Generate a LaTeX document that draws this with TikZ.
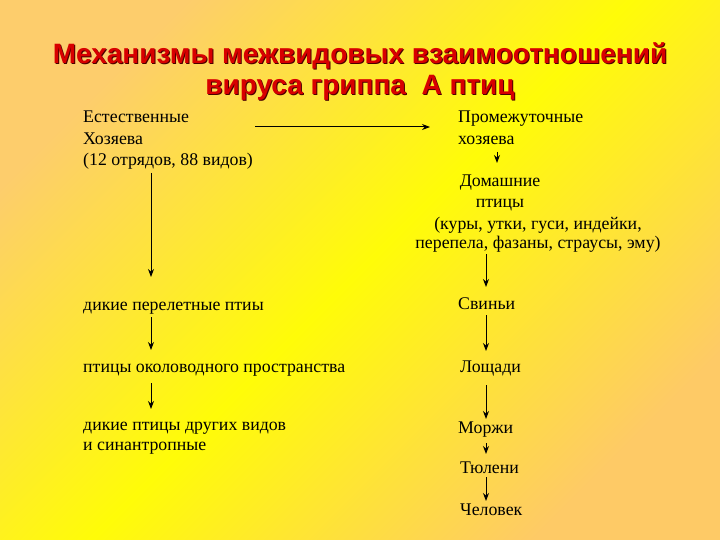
\documentclass[tikz,border=0pt]{standalone}
\usepackage{fontspec}
\setmainfont{Liberation Serif}
\newfontfamily\titlefont{Liberation Sans}
\usetikzlibrary{arrows.meta}
\definecolor{bgorange}{HTML}{FDCD6C}
\definecolor{bgorangeB}{HTML}{FECA66}
\definecolor{bgyellow}{HTML}{FFFC08}
\definecolor{titlered}{HTML}{D80000}
\tikzset{
  txt/.style={inner sep=0pt, font=\fontsize{17.8}{21.3}\selectfont, text=black},
  arr/.style={-{Stealth[length=8pt,width=6pt]}, line width=1pt, black},
  ttl/.style={inner sep=0pt, font=\titlefont\bfseries\fontsize{28}{31}\selectfont, align=center, anchor=north}
}
\begin{document}
\begin{tikzpicture}[x=1pt,y=-1pt]
\useasboundingbox (0,0) rectangle (720,540);
\shade[top color=bgorange, bottom color=bgorangeB, middle color=bgyellow, shading angle=45] (0,0) rectangle (720,540);
% title
\node[ttl, text=black!65!titlered] at (361,43) {Механизмы межвидовых взаимоотношений\\вируса гриппа\ \ А птиц};
\node[ttl, text=titlered] (title) at (360,42) {Механизмы межвидовых взаимоотношений\\вируса гриппа\ \ А птиц};
% left column
\node[txt, align=left, anchor=north west] (nat) at (83,111) {Естественные\\Хозяева\\(12 отрядов, 88 видов)};
\node[txt, anchor=base west] (mig) at (83,310) {дикие перелетные птиы};
\node[txt, anchor=base west] (water) at (83,372) {птицы околоводного пространства};
\node[txt, align=left, anchor=north west, font=\fontsize{17.8}{20}\selectfont] (other) at (83,422) {дикие птицы других видов\\и синантропные};
% right column
\node[txt, align=left, anchor=north west] (inter) at (458,111) {Промежуточные\\хозяева};
\node[txt, align=center, anchor=north, font=\fontsize{17.8}{20.5}\selectfont] (dom) at (500,175) {Домашние\\птицы};
\node[txt, align=center, anchor=north, font=\fontsize{17.8}{19.5}\selectfont] (list) at (538,216.5) {(куры, утки, гуси, индейки,\\перепела, фазаны, страусы, эму)};
\node[txt, anchor=base west] (pig) at (458,309) {Свиньи};
\node[txt, anchor=base west] (horse) at (460,372) {Лощади};
\node[txt, anchor=base west] (walrus) at (458,433) {Моржи};
\node[txt, anchor=base west] (seal) at (460,473) {Тюлени};
\node[txt, anchor=base west] (human) at (460,515) {Человек};
% connector end points
\coordinate (h1) at (255,127);
\coordinate (h2) at (430,127);
\coordinate (l0) at (151,173);
\coordinate (l1) at (151,277);
\coordinate (l2) at (151,317);
\coordinate (l3) at (151,350);
\coordinate (l4) at (151,383);
\coordinate (l5) at (151,409);
\coordinate (r0) at (497,152);
\coordinate (r1) at (497,163);
\coordinate (r2) at (486,254);
\coordinate (r3) at (486,287);
\coordinate (r4) at (486,315);
\coordinate (r5) at (486,351);
\coordinate (r6) at (486,385);
\coordinate (r7) at (486,419);
\coordinate (r8) at (486,443);
\coordinate (r9) at (486,454);
\coordinate (r10) at (486,477);
\coordinate (r11) at (486,501);
\draw[arr] (h1) -- (h2);
\draw[arr] (l0) -- (l1);
\draw[arr] (l2) -- (l3);
\draw[arr] (l4) -- (l5);
\draw[arr] (r0) -- (r1);
\draw[arr] (r2) -- (r3);
\draw[arr] (r4) -- (r5);
\draw[arr] (r6) -- (r7);
\draw[arr] (r8) -- (r9);
\draw[arr] (r10) -- (r11);
\end{tikzpicture}
\end{document}
